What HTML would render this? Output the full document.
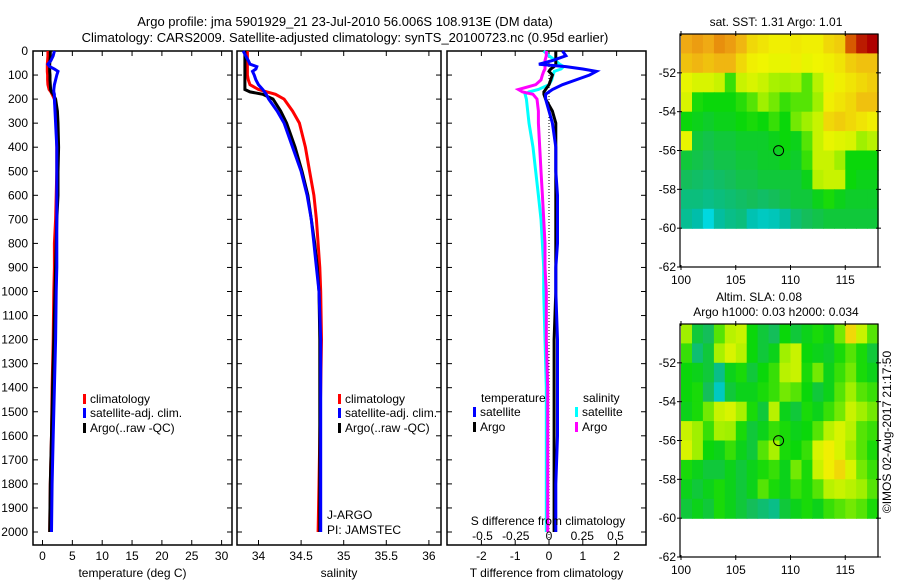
<!DOCTYPE html>
<html><head><meta charset="utf-8">
<style>
html,body{margin:0;padding:0;background:#fff;}
svg{display:block;font-family:"Liberation Sans",sans-serif;}
text{font-size:12px;fill:#000;}
</style></head>
<body>
<svg id="fig" width="900" height="580" viewBox="0 0 900 580">
<text x="345" y="26" text-anchor="middle" style="font-size:13px">Argo profile: jma 5901929_21 23-Jul-2010 56.006S 108.913E (DM data)</text>
<text x="345" y="42" text-anchor="middle" style="font-size:13px">Climatology: CARS2009. Satellite-adjusted climatology: synTS_20100723.nc (0.95d earlier)</text>
</svg>
<script>
// ---- data ----
const depthTicks = [0,100,200,300,400,500,600,700,800,900,1000,1100,1200,1300,1400,1500,1600,1700,1800,1900,2000];
const depths = [0,20,40,55,65,75,85,100,120,140,160,170,180,200,250,300,400,500,600,700,800,900,1000,1200,1400,1600,1800,2000];
const tempClim = [0.9,0.9,0.85,0.8,0.8,0.8,0.8,0.85,0.85,0.9,1.1,1.4,1.6,2.0,2.2,2.3,2.4,2.4,2.3,2.2,2.0,2.0,1.9,1.8,1.6,1.5,1.3,1.2];
const tempSat = [2.0,1.8,1.4,0.9,1.2,2.0,2.6,2.4,2.2,2.0,1.9,1.9,2.0,2.0,2.1,2.2,2.4,2.4,2.4,2.4,2.4,2.4,2.3,2.2,2.0,1.8,1.6,1.5];
const tempArgo = [1.3,1.3,1.25,1.2,1.2,1.2,1.2,1.25,1.25,1.3,1.35,1.5,1.8,2.2,2.5,2.6,2.7,2.6,2.6,2.4,2.3,2.2,2.1,1.9,1.7,1.5,1.3,1.2];
const salClim = [33.87,33.87,33.87,33.87,33.87,33.87,33.87,33.87,33.88,33.9,34.0,34.1,34.2,34.3,34.4,34.48,34.55,34.6,34.65,34.68,34.7,34.72,34.73,34.74,34.73,34.72,34.71,34.7];
const salSat = [33.82,33.85,33.88,33.9,33.98,33.97,33.93,33.95,33.97,34.0,34.05,34.07,34.09,34.12,34.22,34.3,34.4,34.5,34.57,34.62,34.65,34.68,34.71,34.73,34.73,34.73,34.73,34.73];
const salArgo = [33.84,33.84,33.84,33.84,33.84,33.84,33.84,33.84,33.84,33.84,33.84,33.9,34.05,34.17,34.26,34.33,34.43,34.51,34.58,34.62,34.66,34.69,34.71,34.72,34.72,34.72,34.72,34.72];
const tDiffSat = [0.4,0.5,0.1,-0.3,0.5,1.0,1.4,1.2,0.8,0.4,0.1,0.0,-0.1,-0.1,0.0,0.1,0.2,0.2,0.25,0.25,0.25,0.2,0.2,0.25,0.25,0.25,0.2,0.2];
const tDiffArgo = [0.2,0.2,0.2,0.2,0.15,0.05,0.0,0.1,0.05,0.0,-0.1,-0.15,-0.15,-0.1,0.1,0.2,0.2,0.2,0.2,0.2,0.2,0.2,0.2,0.15,0.15,0.15,0.15,0.15];
const sDiffSat = [-0.04,0.0,0.05,0.08,0.11,0.09,0.04,0.03,0.02,0.0,-0.08,-0.15,-0.18,-0.17,-0.16,-0.15,-0.12,-0.1,-0.08,-0.06,-0.05,-0.04,-0.04,-0.03,-0.02,-0.02,-0.02,-0.02];
const sDiffArgo = [-0.02,-0.02,-0.03,-0.03,-0.03,-0.03,-0.04,-0.05,-0.06,-0.1,-0.23,-0.2,-0.12,-0.09,-0.08,-0.08,-0.07,-0.06,-0.05,-0.04,-0.03,-0.03,-0.02,-0.02,-0.01,-0.01,-0.01,-0.01];
const tempTicks = [0,5,10,15,20,25,30];
const salTicks = [34,34.5,35,35.5,36];
const salTickLabels = ["34","34.5","35","35.5","36"];
const tdTicks = [-2,-1,0,1,2];
const sdTicks = [-0.5,-0.25,0,0.25,0.5];
const sdTickLabels = ["-0.5","-0.25","0","0.25","0.5"];
const lonTicks = [100,105,110,115];
const latTicks = [-52,-54,-56,-58,-60,-62];
// map grids: rows lat -50..-60 (1 deg), cols lon 100..118 (1 deg), values on colour scale 0..1
const sstGrid = [
[0.78,0.8,0.78,0.82,0.8,0.76,0.7,0.68,0.66,0.66,0.67,0.66,0.66,0.7,0.72,0.9,0.97,1.0],
[0.74,0.76,0.74,0.76,0.76,0.7,0.66,0.65,0.64,0.64,0.66,0.64,0.65,0.66,0.68,0.72,0.74,0.74],
[0.64,0.62,0.62,0.6,0.48,0.6,0.62,0.6,0.56,0.55,0.56,0.5,0.58,0.64,0.66,0.68,0.7,0.72],
[0.62,0.46,0.45,0.45,0.45,0.47,0.5,0.55,0.52,0.48,0.5,0.5,0.55,0.66,0.68,0.7,0.74,0.74],
[0.45,0.44,0.43,0.44,0.44,0.45,0.46,0.45,0.48,0.45,0.52,0.55,0.6,0.7,0.72,0.7,0.68,0.66],
[0.64,0.42,0.41,0.42,0.42,0.43,0.43,0.43,0.44,0.45,0.44,0.5,0.6,0.64,0.63,0.62,0.55,0.58],
[0.42,0.41,0.4,0.41,0.41,0.42,0.42,0.43,0.43,0.44,0.43,0.48,0.6,0.6,0.55,0.45,0.45,0.45],
[0.4,0.39,0.38,0.39,0.4,0.41,0.41,0.42,0.42,0.42,0.42,0.44,0.58,0.6,0.6,0.45,0.44,0.44],
[0.37,0.37,0.36,0.37,0.38,0.39,0.4,0.39,0.4,0.41,0.42,0.42,0.44,0.46,0.44,0.43,0.43,0.43],
[0.35,0.33,0.26,0.34,0.36,0.37,0.32,0.3,0.31,0.34,0.38,0.4,0.41,0.42,0.42,0.42,0.42,0.42]];
const slaGrid = [
[0.55,0.42,0.4,0.5,0.58,0.6,0.45,0.42,0.4,0.45,0.42,0.44,0.46,0.44,0.52,0.7,0.6,0.5],
[0.48,0.38,0.42,0.56,0.62,0.58,0.45,0.42,0.44,0.55,0.6,0.45,0.44,0.43,0.46,0.5,0.46,0.42],
[0.45,0.44,0.42,0.36,0.44,0.46,0.42,0.45,0.48,0.58,0.6,0.46,0.52,0.44,0.48,0.52,0.46,0.44],
[0.45,0.46,0.4,0.3,0.42,0.44,0.44,0.46,0.48,0.52,0.5,0.45,0.42,0.44,0.5,0.55,0.5,0.48],
[0.44,0.46,0.52,0.6,0.62,0.56,0.46,0.42,0.58,0.44,0.42,0.46,0.44,0.48,0.52,0.6,0.55,0.52],
[0.6,0.55,0.48,0.56,0.55,0.46,0.42,0.44,0.48,0.46,0.44,0.45,0.5,0.58,0.62,0.58,0.5,0.48],
[0.62,0.55,0.45,0.44,0.48,0.44,0.42,0.5,0.56,0.46,0.45,0.48,0.62,0.66,0.62,0.55,0.5,0.46],
[0.46,0.44,0.42,0.42,0.44,0.42,0.44,0.46,0.48,0.44,0.52,0.46,0.6,0.66,0.7,0.62,0.52,0.48],
[0.44,0.42,0.44,0.46,0.44,0.42,0.44,0.5,0.46,0.44,0.48,0.46,0.5,0.58,0.6,0.58,0.55,0.5],
[0.42,0.44,0.42,0.46,0.44,0.42,0.4,0.38,0.36,0.42,0.44,0.46,0.44,0.48,0.5,0.52,0.5,0.46]];

const NS="http://www.w3.org/2000/svg";
const svg=document.getElementById('fig');
function mk(tag,attrs,parent){const e=document.createElementNS(NS,tag);for(const k in attrs)e.setAttribute(k,attrs[k]);(parent||svg).appendChild(e);return e;}
function txt(x,y,s,anchor,parent){const t=mk('text',{x:x,y:y,'text-anchor':anchor||'start'},parent);t.textContent=s;return t;}

// depth axis
const TOP=51, BOT=545;
function yD(d){return 51+d*0.2405;}

function panel(name,x0,x1,xf,xticks,xlabels,xtitle,showDepthLabels){
  const g=mk('g',{});
  
  
  const r=mk('rect',{x:x0,y:TOP,width:x1-x0,height:BOT-TOP,fill:'none',stroke:'#000','stroke-width':1.5},g);
  
  
  depthTicks.forEach(d=>{
    const y=yD(d);
    mk('line',{x1:x0,y1:y,x2:x0+5,y2:y,stroke:'#000'},g);
    mk('line',{x1:x1,y1:y,x2:x1-5,y2:y,stroke:'#000'},g);
    if(showDepthLabels){const t=txt(x0-5,y+4,String(d),'end',g);
      
      }
  });
  xticks.forEach((v,i)=>{
    const x=xf(v);
    mk('line',{x1:x,y1:TOP,x2:x,y2:TOP+5,stroke:'#000'},g);
    mk('line',{x1:x,y1:BOT,x2:x,y2:BOT-5,stroke:'#000'},g);
    const t=txt(x,560,xlabels[i],'middle',g);
    
    
  });
  const tt=txt((x0+x1)/2,577,xtitle,'middle',g);
  
  
  return g;
}
function series(g,xf,vals,color,name,w){
  const pts=vals.map((v,i)=>xf(v).toFixed(1)+','+yD(depths[i]).toFixed(1)).join(' ');
  const p=mk('polyline',{points:pts,fill:'none',stroke:color,'stroke-width':w||3,'stroke-linejoin':'miter'},g);
  
  
}
function legend(g,x,y,color,label,name){
  const r=mk('rect',{x:x,y:y-9,width:3,height:10,fill:color},g);
  
  
  const t=txt(x+7,y,label,'start',g);
  
  
}

// panel 1 temperature
const xT=v=>42.5+v*5.97;
const g1=panel('temperature-panel',33,232,xT,tempTicks,tempTicks.map(String),'temperature (deg C)',true);
series(g1,xT,tempClim,'#f00','temp-climatology-line');
series(g1,xT,tempArgo,'#000','temp-argo-line');
series(g1,xT,tempSat,'#00f','temp-satellite-line');
legend(g1,83,403,'#f00','climatology','legend-climatology');
legend(g1,83,417,'#00f','satellite-adj. clim.','legend-satellite');
legend(g1,83,432,'#000','Argo(..raw -QC)','legend-argo');

// panel 2 salinity
const xS=v=>258.5+(v-34)*85.2;
const g2=panel('salinity-panel',237,441,xS,salTicks,salTickLabels,'salinity',false);
series(g2,xS,salClim,'#f00','sal-climatology-line');
series(g2,xS,salArgo,'#000','sal-argo-line');
series(g2,xS,salSat,'#00f','sal-satellite-line');
legend(g2,338,403,'#f00','climatology','legend-climatology-2');
legend(g2,338,417,'#00f','satellite-adj. clim.','legend-satellite-2');
legend(g2,338,432,'#000','Argo(..raw -QC)','legend-argo-2');
let t=txt(327,519,'J-ARGO','start',g2);


t=txt(327,534,'PI: JAMSTEC','start',g2);



// panel 3 differences
const xTD=v=>549+v*33.8;
const xSD=v=>549+v*133;
const g3=panel('difference-panel',447,646,xTD,tdTicks,tdTicks.map(String),'T difference from climatology',false);
const zl=mk('line',{x1:xTD(0),y1:TOP,x2:xTD(0),y2:BOT,stroke:'#000','stroke-dasharray':'1,2'},g3);


series(g3,xSD,sDiffSat,'#0ff','s-diff-satellite-line');
series(g3,xSD,sDiffArgo,'#f0f','s-diff-argo-line');
series(g3,xTD,tDiffArgo,'#000','t-diff-argo-line');
series(g3,xTD,tDiffSat,'#00f','t-diff-satellite-line');
t=txt(481,402,'temperature','start',g3);


t=txt(583,402,'salinity','start',g3);


legend(g3,473,416,'#00f','satellite','legend-t-satellite');
legend(g3,473,431,'#000','Argo','legend-t-argo');
legend(g3,575,416,'#0ff','satellite','legend-s-satellite');
legend(g3,575,431,'#f0f','Argo','legend-s-argo');
t=txt(548,525,'S difference from climatology','middle',g3);


sdTicks.forEach((v,i)=>{const tl=txt(xSD(v),540,sdTickLabels[i],'middle',g3);
  
  });

// colour map
const cStops=[[0.25,[0,220,230]],[0.33,[0,190,170]],[0.4,[20,190,90]],[0.45,[10,215,10]],[0.55,[160,240,0]],[0.65,[240,245,0]],[0.78,[240,170,20]],[0.9,[215,90,0]],[1.0,[175,0,0]]];
function cmap(v){
  if(v<=cStops[0][0])return 'rgb('+cStops[0][1]+')';
  for(let i=1;i<cStops.length;i++){if(v<=cStops[i][0]){const a=cStops[i-1],b=cStops[i];const f=(v-a[0])/(b[0]-a[0]);
    return 'rgb('+a[1].map((c,k)=>Math.round(c+(b[1][k]-c)*f)).join(',')+')';}}
  return 'rgb('+cStops[cStops.length-1][1]+')';
}
function map(name,top,bottom,grid,titles){
  const x0=680,x1=878;
  const xL=lon=>681+(lon-100)*10.95;
  const yL=lat=>top+(-50-lat)*(bottom-top)/12;
  const g=mk('g',{});
  
  
  grid.forEach((row,r)=>row.forEach((v,c)=>{
    const xa=xL(100+c),xb=xL(101+c),ya=yL(-50-r),yb=yL(-51-r);
    const cell=mk('rect',{x:xa.toFixed(1),y:ya.toFixed(1),width:(xb-xa+0.6).toFixed(1),height:(yb-ya+0.6).toFixed(1),fill:cmap(v)},g);
    
    
  }));
  mk('rect',{x:x0,y:top,width:x1-x0,height:bottom-top,fill:'none',stroke:'#000','stroke-width':1.2},g);
  latTicks.forEach(lat=>{const y=yL(lat);
    mk('line',{x1:x0-3,y1:y,x2:x0+2,y2:y,stroke:'#000'},g);
    mk('line',{x1:x1+3,y1:y,x2:x1-2,y2:y,stroke:'#000'},g);
    const tl=txt(676,y+4,String(lat),'end',g);
    
    });
  lonTicks.forEach(lon=>{const x=xL(lon);
    mk('line',{x1:x,y1:top-3,x2:x,y2:top+2,stroke:'#000'},g);
    mk('line',{x1:x,y1:bottom+3,x2:x,y2:bottom-2,stroke:'#000'},g);
    const tl=txt(x,bottom+17,String(lon),'middle',g);
    
    });
  const m=mk('circle',{cx:xL(108.913),cy:yL(-56.006),r:5,fill:'none',stroke:'#000','stroke-width':1},g);
  
  
  titles.forEach((s,i)=>{const tl=txt(s[1],s[2],s[0],'middle',g);
    
    });
}
map('sst-map',34,267,sstGrid,[['sat. SST: 1.31  Argo: 1.01',776,26]]);
map('sla-map',324,557,slaGrid,[['Altim. SLA: 0.08',759,301],['Argo h1000: 0.03 h2000: 0.034',776,316]]);
const cp=txt(0,0,'©IMOS 02-Aug-2017 21:17:50','middle');
cp.setAttribute('transform','translate(891,432) rotate(-90)');


</script>
</body></html>
